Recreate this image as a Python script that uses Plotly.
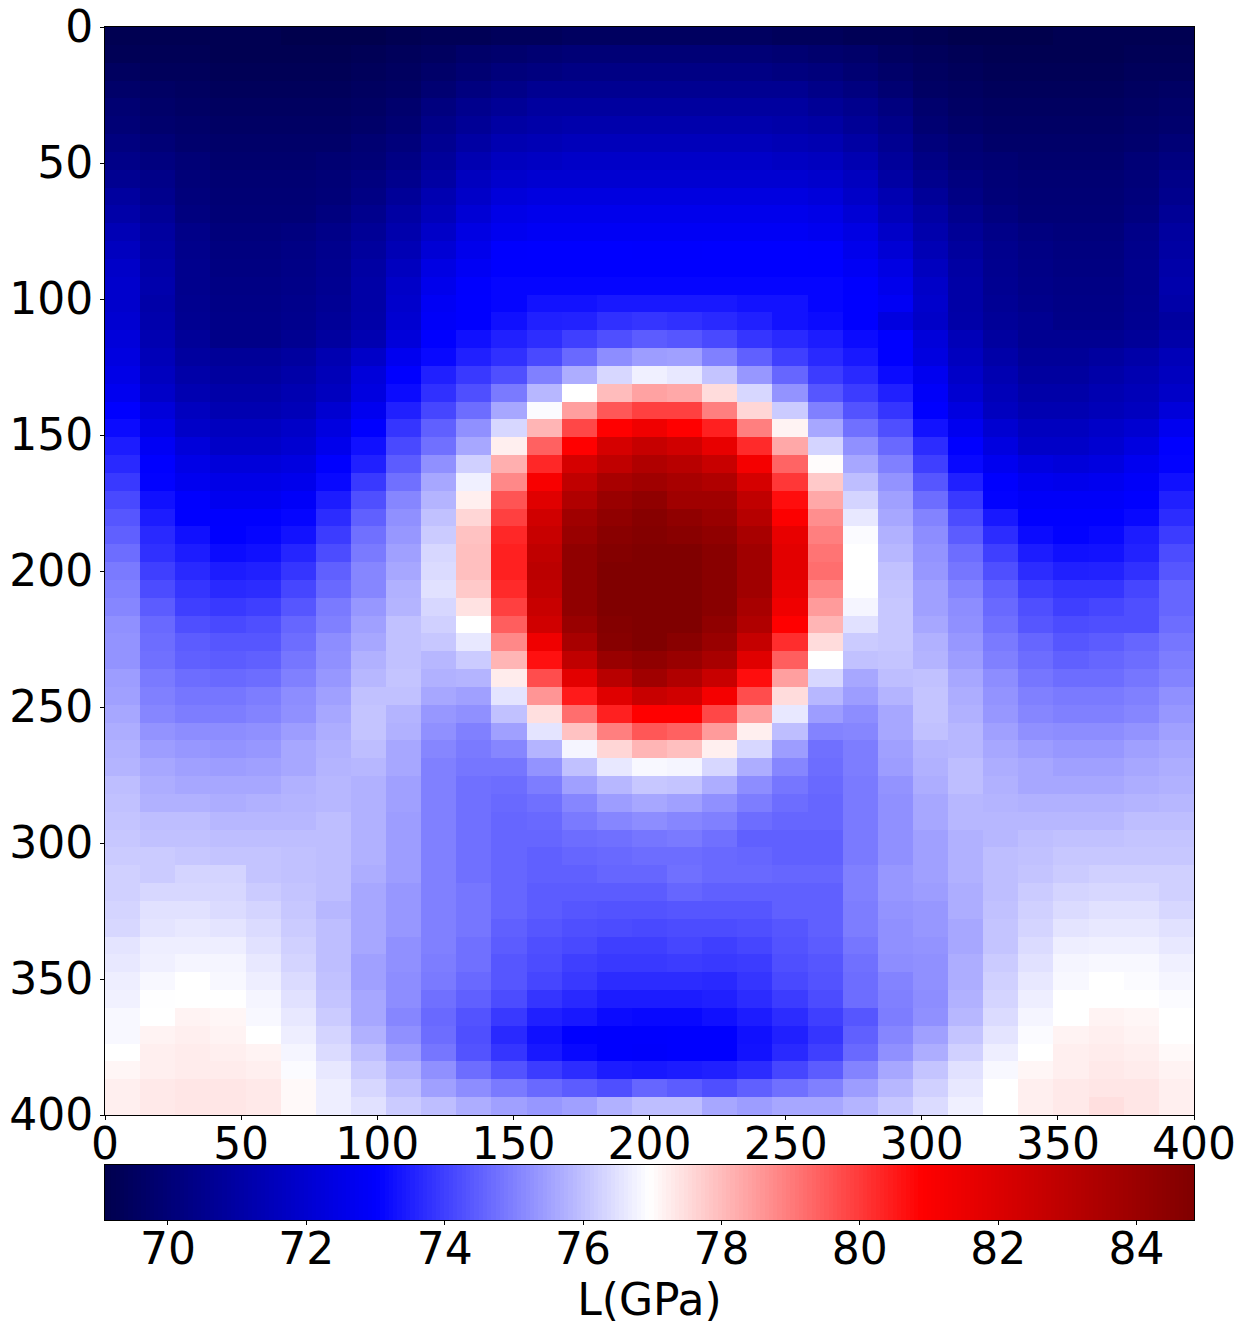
import numpy as np
import plotly.graph_objects as go

# Columns 0..15 of every row.
ROWS_LEFT = [
[69.2,69.2,69.2,69.2,69.2,69.1,69.1,69.1,69.2,69.3,69.3,69.4,69.4,69.5,69.5,69.5],
[69.3,69.3,69.3,69.2,69.2,69.2,69.2,69.3,69.4,69.5,69.7,69.8,69.9,70.0,70.0,70.0],
[69.5,69.4,69.4,69.3,69.3,69.3,69.3,69.4,69.5,69.7,69.9,70.1,70.2,70.3,70.3,70.3],
[69.7,69.6,69.5,69.4,69.4,69.4,69.4,69.5,69.6,69.9,70.2,70.4,70.6,70.6,70.6,70.6],
[69.9,69.7,69.6,69.5,69.5,69.5,69.5,69.6,69.8,70.2,70.5,70.7,70.9,70.9,70.9,70.9],
[70.0,69.8,69.7,69.6,69.6,69.6,69.6,69.7,69.9,70.4,70.7,71.0,71.1,71.2,71.2,71.2],
[70.2,70.0,69.8,69.7,69.7,69.7,69.7,69.9,70.1,70.6,71.0,71.3,71.4,71.5,71.5,71.5],
[70.4,70.2,70.0,69.8,69.8,69.8,69.9,70.0,70.3,70.8,71.3,71.6,71.7,71.8,71.8,71.8],
[70.6,70.4,70.05,69.9,69.9,69.9,70.0,70.2,70.5,71.0,71.6,71.9,72.0,72.0,72.0,72.0],
[70.9,70.5,70.1,69.95,69.95,69.95,70.05,70.3,70.75,71.3,71.8,72.2,72.35,72.35,72.35,72.35],
[71.1,70.7,70.2,70.0,70.0,70.0,70.2,70.5,71.0,71.5,72.1,72.5,72.6,72.6,72.6,72.6],
[71.4,70.9,70.4,70.1,70.1,70.2,70.4,70.7,71.2,71.8,72.4,72.7,72.8,72.8,72.8,72.8],
[71.6,71.0,70.45,70.2,70.2,70.3,70.5,70.85,71.4,72.1,72.6,73.0,73.03,73.03,73.03,73.0],
[71.8,71.1,70.5,70.25,70.25,70.35,70.55,71.0,71.6,72.4,72.8,73.03,73.03,73.03,73.03,73.03],
[71.9,71.2,70.5,70.3,70.3,70.4,70.6,71.05,71.8,72.6,73.0,73.1,73.1,73.1,73.1,73.1],
[71.9,71.1,70.55,70.35,70.35,70.45,70.65,71.05,71.9,72.8,73.03,73.1,73.3,73.3,73.4,73.4],
[72.0,71.2,70.6,70.4,70.4,70.5,70.75,71.1,72.0,72.9,73.03,73.27,73.52,73.55,73.77,73.85],
[72.2,71.3,70.75,70.4,70.4,70.6,70.9,71.3,72.2,73.03,73.27,73.52,73.72,74.0,74.25,74.45],
[72.35,71.45,70.9,70.75,70.75,70.9,71.3,71.8,72.7,73.15,73.52,73.77,74.15,74.65,75.2,75.45],
[72.5,71.6,71.1,70.9,70.9,71.1,71.45,72.2,73.03,73.52,73.9,74.25,75.0,75.7,76.35,76.73],
[72.7,71.8,71.3,71.1,71.1,71.3,71.6,72.35,73.2,73.77,74.25,74.9,75.85,76.96,78.0,78.4],
[73.03,72.2,71.6,71.3,71.3,71.45,72.0,72.7,73.52,74.1,74.7,75.6,76.9,78.44,79.55,79.9],
[73.2,72.5,71.8,71.6,71.6,71.8,72.35,73.03,73.85,74.5,75.25,76.35,78.1,79.8,80.9,81.36],
[73.45,72.8,72.2,71.8,71.8,72.0,72.6,73.27,74.15,74.75,75.6,77.2,79.4,80.9,82.2,82.65],
[73.65,73.03,72.5,72.2,72.2,72.35,73.0,73.52,74.45,75.25,76.24,78.2,80.3,82.2,82.84,83.33],
[73.9,73.05,72.7,72.5,72.5,72.6,73.15,73.9,74.75,75.6,76.73,78.8,81.1,82.84,83.6,83.83],
[74.15,73.27,73.0,72.7,72.7,72.9,73.45,74.25,75.1,75.8,77.2,79.6,81.86,83.33,84.05,84.32],
[74.35,73.45,73.03,73.0,73.0,73.1,73.7,74.5,75.25,76.0,77.6,79.9,82.35,83.83,84.32,84.6],
[74.5,73.65,73.27,73.03,73.1,73.3,73.95,74.75,75.35,76.15,77.9,80.3,82.6,84.05,84.55,84.7],
[74.7,73.77,73.45,73.2,73.27,73.6,74.2,74.9,75.5,76.35,77.95,80.4,82.84,84.32,84.7,84.83],
[74.9,74.0,73.65,73.45,73.52,73.85,74.5,75.1,75.6,76.4,77.95,80.4,83.0,84.32,84.83,84.83],
[75.0,74.2,73.85,73.65,73.7,74.1,74.65,75.1,75.75,76.5,77.8,80.25,82.84,84.32,84.83,84.83],
[75.1,74.45,74.0,73.9,74.0,74.35,74.9,75.35,75.8,76.35,77.4,79.9,82.6,84.32,84.83,84.83],
[75.25,74.65,74.25,74.15,74.25,74.6,75.0,75.5,76.0,76.24,76.96,79.45,82.35,84.05,84.7,84.83],
[75.3,74.7,74.45,74.35,74.35,74.7,75.2,75.6,76.0,76.1,76.6,78.8,81.36,83.6,84.6,84.83],
[75.3,74.75,74.5,74.45,74.5,74.85,75.25,75.75,76.0,75.85,76.15,78.1,80.65,82.84,84.05,84.32],
[75.45,74.9,74.7,74.65,74.7,75.0,75.35,75.85,76.05,75.75,75.8,77.25,79.7,81.75,83.1,83.83],
[75.5,75.0,74.85,74.85,74.95,75.2,75.5,76.0,76.0,75.6,75.5,76.55,78.6,80.5,81.86,82.6],
[75.6,75.1,74.95,74.95,75.05,75.25,75.6,76.05,75.8,75.35,75.25,76.0,77.45,79.2,80.4,80.9],
[75.7,75.3,75.2,75.2,75.25,75.45,75.7,76.05,75.75,75.25,75.0,75.5,76.55,77.9,78.93,79.55],
[75.75,75.45,75.35,75.3,75.35,75.6,75.75,75.95,75.6,75.1,74.9,75.1,75.8,76.8,77.6,78.1],
[75.8,75.6,75.5,75.45,75.5,75.6,75.8,75.85,75.6,75.0,74.85,74.85,75.3,76.0,76.6,76.85],
[75.95,75.7,75.6,75.6,75.6,75.75,75.85,75.75,75.5,75.0,74.75,74.7,74.95,75.5,75.85,76.1],
[76.0,75.75,75.75,75.7,75.75,75.8,75.85,75.75,75.5,75.0,74.75,74.65,74.75,75.1,75.45,75.6],
[76.05,75.95,75.95,75.85,75.85,75.85,75.95,75.75,75.45,75.0,74.75,74.6,74.65,74.9,75.1,75.2],
[76.1,76.0,76.0,75.95,75.95,75.95,75.95,75.75,75.45,75.0,74.75,74.6,74.6,74.7,74.75,74.85],
[76.15,76.15,76.1,76.05,76.05,76.0,75.95,75.75,75.45,75.0,74.75,74.6,74.5,74.6,74.65,74.7],
[76.24,76.15,76.3,76.3,76.05,76.0,75.95,75.7,75.45,75.0,74.75,74.6,74.5,74.5,74.6,74.6],
[76.24,76.35,76.35,76.35,76.15,76.05,75.95,75.6,75.35,75.0,74.85,74.6,74.45,74.45,74.45,74.45],
[76.3,76.5,76.5,76.4,76.3,76.1,75.85,75.6,75.35,75.0,74.85,74.6,74.45,74.35,74.3,74.3],
[76.35,76.55,76.6,76.55,76.4,76.15,75.95,75.6,75.35,75.0,74.85,74.5,74.35,74.25,74.2,74.15],
[76.55,76.7,76.7,76.7,76.5,76.24,75.95,75.6,75.25,75.0,74.75,74.45,74.25,74.15,74.0,74.0],
[76.6,76.73,76.8,76.8,76.6,76.3,75.95,75.5,75.25,74.95,74.75,74.35,74.2,74.0,73.9,73.9],
[76.7,76.85,76.96,76.85,76.7,76.4,76.0,75.5,75.2,74.9,74.65,74.35,74.1,73.9,73.7,73.7],
[76.75,76.95,76.96,76.96,76.8,76.5,76.05,75.6,75.2,74.75,74.5,74.2,73.85,73.65,73.45,73.45],
[76.85,76.96,77.15,77.1,76.85,76.6,76.15,75.6,75.1,74.65,74.3,73.9,73.52,73.4,73.2,73.15],
[76.85,77.15,77.2,77.15,76.96,76.7,76.3,75.75,75.25,74.7,74.25,73.65,73.27,73.03,73.0,73.0],
[76.96,77.2,77.25,77.2,77.15,76.8,76.4,75.95,75.45,74.85,74.3,73.85,73.4,73.15,73.0,72.95],
[77.1,77.2,77.25,77.25,77.2,76.9,76.6,76.15,75.75,75.25,74.7,74.3,73.95,73.7,73.45,73.4],
[77.2,77.3,77.35,77.35,77.3,77.05,76.7,76.35,75.95,75.5,75.2,74.9,74.65,74.45,74.25,74.6],
[77.2,77.3,77.35,77.35,77.3,77.05,76.7,76.5,76.15,75.95,75.7,75.5,75.35,75.5,75.75,75.95],
]
# Columns 16..30 of rows 16..60, read separately (the field is not quite symmetric there).
FIRST_RIGHT_ROW = 16
ROWS_RIGHT = [
[73.77,73.65,73.52,73.3,73.2,73.03,72.35,71.8,71.1,70.75,70.6,70.4,70.4,70.6,70.9],
[74.35,74.15,73.85,73.65,73.45,73.2,73.03,72.2,71.45,70.9,70.6,70.6,70.6,70.75,71.1],
[75.5,75.0,74.5,74.0,73.65,73.4,73.03,72.35,71.6,71.1,70.75,70.75,70.9,71.1,71.45],
[76.6,76.05,75.35,74.6,73.95,73.65,73.2,72.7,71.8,71.3,70.9,70.9,71.1,71.3,71.6],
[78.3,77.5,76.35,75.3,74.35,73.95,73.52,72.9,72.0,71.45,71.1,71.1,71.3,71.45,71.8],
[79.9,78.93,77.6,76.15,75.0,74.3,73.85,73.03,72.35,71.6,71.3,71.3,71.45,71.6,72.2],
[80.9,80.4,78.93,77.15,75.6,74.75,74.25,73.3,72.7,72.0,71.6,71.6,71.8,72.0,72.7],
[82.35,81.6,80.25,78.3,76.3,75.25,74.65,73.7,73.03,72.35,71.8,71.8,72.0,72.35,73.03],
[83.1,82.6,81.2,79.35,77.0,75.6,75.0,74.0,73.15,72.7,72.35,72.2,72.35,72.7,73.05],
[83.6,83.33,82.2,80.05,77.8,75.95,75.3,74.35,73.52,73.0,72.7,72.6,72.7,72.9,73.27],
[83.83,83.83,82.84,80.7,78.3,76.3,75.5,74.7,73.9,73.05,72.9,72.9,72.9,73.03,73.52],
[84.32,84.05,83.15,81.0,78.7,76.6,75.6,75.05,74.2,73.4,73.03,73.03,73.03,73.15,73.7],
[84.55,84.32,83.6,81.6,78.93,76.9,75.75,75.2,74.45,73.7,73.2,73.05,73.15,73.45,73.95],
[84.83,84.55,83.83,81.75,79.1,76.96,75.85,75.3,74.7,74.0,73.45,73.27,73.3,73.55,74.2],
[84.83,84.55,83.83,81.75,79.2,76.96,76.0,75.35,74.85,74.25,73.7,73.52,73.55,73.77,74.35],
[84.83,84.55,83.83,81.6,78.85,76.95,76.05,75.5,75.05,74.5,74.0,73.85,73.85,74.1,74.6],
[84.83,84.55,83.6,81.36,78.5,76.8,76.1,75.5,75.2,74.65,74.25,74.0,74.1,74.25,74.6],
[84.83,84.32,83.33,80.9,78.1,76.5,76.1,75.6,75.25,74.75,74.35,74.2,74.25,74.25,74.7],
[84.55,84.05,82.7,80.2,77.5,76.15,76.1,75.75,75.35,74.9,74.6,74.35,74.45,74.6,74.85],
[84.05,83.6,81.86,79.45,76.96,76.0,76.05,75.8,75.45,75.0,74.7,74.5,74.6,74.7,74.95],
[83.33,82.6,80.7,78.44,76.35,75.6,75.95,76.0,75.6,75.2,74.85,74.7,74.7,74.85,75.05],
[82.35,81.2,79.7,77.5,75.85,75.45,75.8,76.05,75.7,75.3,75.0,74.9,74.9,75.0,75.25],
[80.9,79.8,78.44,76.6,75.45,75.2,75.6,76.05,75.75,75.35,75.1,75.0,75.0,75.1,75.35],
[79.4,78.5,77.2,75.95,75.05,75.1,75.6,76.0,75.85,75.5,75.25,75.2,75.2,75.3,75.5],
[77.95,77.2,76.35,75.45,74.75,74.95,75.5,75.8,75.85,75.6,75.45,75.35,75.35,75.5,75.6],
[76.8,76.35,75.7,75.1,74.7,74.95,75.45,75.75,75.95,75.7,75.6,75.5,75.5,75.6,75.7],
[76.05,75.7,75.2,74.85,74.65,74.9,75.3,75.7,75.95,75.75,75.6,75.6,75.6,75.7,75.75],
[75.5,75.25,74.95,74.7,74.6,74.9,75.25,75.6,75.85,75.8,75.75,75.75,75.75,75.8,75.85],
[75.1,75.0,74.7,74.6,74.6,74.9,75.25,75.6,75.85,75.85,75.85,75.85,75.85,75.95,75.95],
[74.9,74.75,74.5,74.5,74.5,74.9,75.25,75.5,75.75,75.85,75.95,76.0,76.0,76.05,76.05],
[74.7,74.65,74.6,74.5,74.5,74.9,75.25,75.5,75.75,75.95,76.0,76.1,76.1,76.1,76.1],
[74.75,74.65,74.65,74.6,74.6,75.0,75.35,75.5,75.75,75.95,76.05,76.15,76.24,76.24,76.24],
[74.6,74.5,74.5,74.5,74.5,75.0,75.35,75.45,75.7,75.95,76.15,76.3,76.35,76.35,76.24],
[74.35,74.35,74.35,74.5,74.5,74.95,75.3,75.35,75.7,76.0,76.24,76.4,76.5,76.5,76.35],
[74.2,74.2,74.25,74.35,74.5,74.95,75.25,75.35,75.6,76.05,76.3,76.55,76.6,76.6,76.5],
[74.1,74.0,74.1,74.3,74.45,74.85,75.25,75.3,75.6,76.05,76.4,76.7,76.73,76.73,76.6],
[73.95,73.9,73.95,74.25,74.35,74.75,75.2,75.25,75.7,76.15,76.5,76.8,76.85,76.85,76.73],
[73.7,73.65,73.85,74.15,74.3,74.7,75.05,75.25,75.7,76.24,76.6,76.85,76.96,76.9,76.8],
[73.45,73.52,73.7,73.95,74.2,74.7,75.0,75.2,75.75,76.3,76.7,76.96,76.96,76.96,76.9],
[73.15,73.27,73.45,73.7,74.0,74.35,74.95,75.25,75.85,76.4,76.8,76.96,77.15,77.1,76.96],
[73.03,73.03,73.27,73.52,73.85,74.5,75.1,75.5,76.05,76.55,76.9,77.15,77.2,77.15,76.96],
[73.03,73.03,73.3,73.65,74.0,74.65,75.25,75.7,76.24,76.7,76.96,77.2,77.25,77.2,77.05],
[73.45,73.52,73.7,74.1,74.45,75.05,75.6,76.05,76.5,76.85,77.1,77.2,77.3,77.25,77.15],
[74.45,74.25,74.5,74.75,75.0,75.45,75.85,76.24,76.6,76.96,77.2,77.3,77.35,77.35,77.2],
[75.95,75.6,75.45,75.6,75.6,75.8,76.1,76.4,76.73,76.96,77.2,77.3,77.45,77.35,77.2],
]
AXIS_TICKS = [0, 50, 100, 150, 200, 250, 300, 350, 400]
BAR_TICKS = [70, 72, 74, 76, 78, 80, 82, 84]
Z_MIN, Z_MAX = 69.09, 84.83
BAR_TITLE = "L(GPa)"
SEISMIC = [[0, "rgb(0,0,77)"], [0.25, "rgb(0,0,255)"], [0.5, "rgb(255,255,255)"],
           [0.75, "rgb(255,0,0)"], [1, "rgb(128,0,0)"]]

z = []
for i, row in enumerate(ROWS_LEFT):
    right = ROWS_RIGHT[i - FIRST_RIGHT_ROW] if i >= FIRST_RIGHT_ROW else row[:0:-1]
    z.append(row + right)
n_rows, n_cols = len(z), len(z[0])

FONT = "DejaVu Sans"
FONT_SIZE = 44
ink = dict(family=FONT, size=FONT_SIZE, color="black")

fig = go.Figure()
fig.add_trace(go.Heatmap(
    z=z, x0=200 / n_cols, dx=400 / n_cols, y0=200 / n_rows, dy=400 / n_rows,
    zmin=Z_MIN, zmax=Z_MAX, colorscale=SEISMIC, showscale=False,
))
# Colour bar, drawn as its own strip of axes below the field.
ramp = np.linspace(Z_MIN, Z_MAX, 256)
fig.add_trace(go.Heatmap(
    z=[ramp.tolist()], x=ramp.tolist(), y=[0],
    zmin=Z_MIN, zmax=Z_MAX, colorscale=SEISMIC, showscale=False,
    xaxis="x2", yaxis="y2",
))

base = dict(ticks="outside", ticklen=4, tickwidth=1, tickcolor="black",
            showline=True, linecolor="black", linewidth=1, mirror=True,
            automargin=False, showgrid=False, zeroline=False,
            ticklabeloverflow="allow", tickfont=ink)
H, T = 1331.0, 27.0
H_INNER = H - T
fig.update_layout(
    width=1246, height=1331, margin=dict(l=105, r=52, t=27, b=0),
    paper_bgcolor="white", plot_bgcolor="white", font=dict(family=FONT),
    xaxis=dict(base, range=[0, 400], tickvals=AXIS_TICKS, anchor="y", ticklabelstandoff=-14),
    yaxis=dict(base, range=[400, 0], tickvals=AXIS_TICKS, anchor="x", ticklabelstandoff=-2,
               domain=[(H - 1115) / H_INNER, 1]),
    xaxis2=dict(base, range=[Z_MIN, Z_MAX], tickvals=BAR_TICKS, anchor="y2", ticklabelstandoff=-14,
                title=dict(text=BAR_TITLE, font=ink, standoff=5)),
    yaxis2=dict(base, range=[-0.5, 0.5], showticklabels=False, ticks="", anchor="x2",
                domain=[(H - 1220) / H_INNER, (H - 1165) / H_INNER]),
)
fig.write_html("out.html", config={"displayModeBar": False},
               post_script="document.body.style.margin='0';")
